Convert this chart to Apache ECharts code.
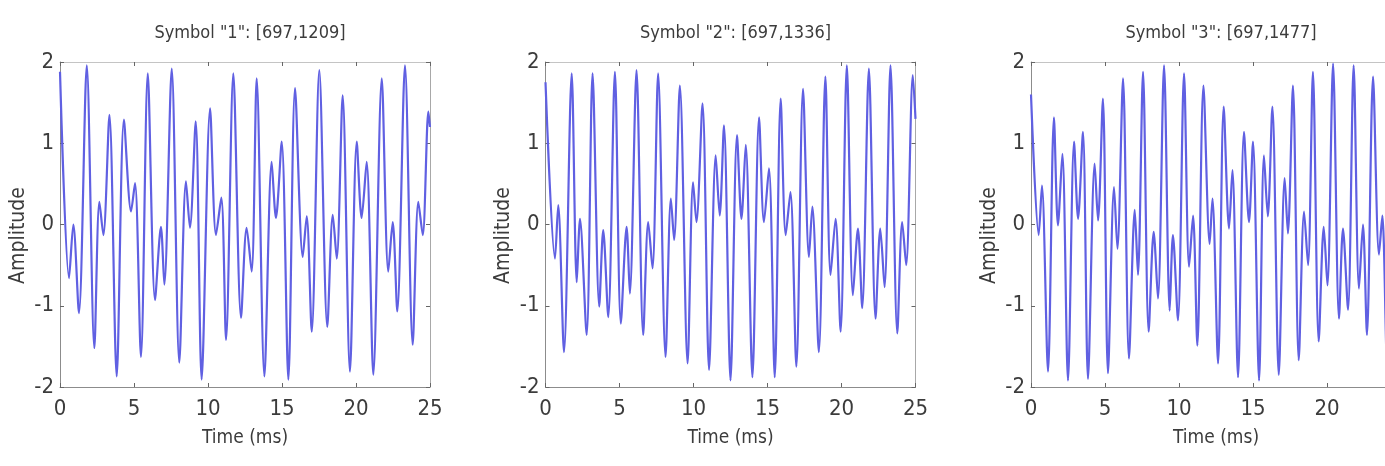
<!DOCTYPE html>
<html>
<head>
<meta charset="utf-8">
<script src="https://cdn.jsdelivr.net/npm/echarts@6/dist/echarts.min.js"></script>
<style>
html,body{margin:0;padding:0;background:#fff;overflow:hidden;width:1385px;height:466px;}
#c{width:1425px;height:466px;}
</style>
</head>
<body>
<div id="c"></div>
<script>
// ---- data (time in ms, amplitude) ----
const titles = ['Symbol "1": [697,1209]', 'Symbol "2": [697,1336]', 'Symbol "3": [697,1477]'];
const xTicks = [0, 5, 10, 15, 20, 25];
const yTicks = [-2, -1, 0, 1, 2];

const t1 = [0,0.61,0.9,1.28,1.81,2.32,2.66,2.93,3.34,3.83,4.32,4.8,5.07,5.47,5.93,6.42,6.82,7.05,7.55,8.06,8.51,8.78,9.17,9.57,10.14,10.54,10.9,11.22,11.71,12.23,12.61,12.95,13.29,13.81,14.3,14.59,14.98,15.43,15.88,16.4,16.67,17.01,17.52,18.06,18.43,18.7,19.1,19.59,20.05,20.38,20.72,21.17,21.74,22.18,22.48,22.79,23.31,23.83,24.21,24.51,24.89,25];
const v1 = [1.88,-0.66,0.0,-1.09,1.96,-1.52,0.28,-0.13,1.35,-1.87,1.29,0.16,0.51,-1.63,1.86,-0.93,-0.03,-0.74,1.92,-1.7,0.53,-0.04,1.27,-1.91,1.43,-0.13,0.33,-1.42,1.86,-1.15,-0.04,-0.58,1.8,-1.87,0.77,0.08,1.02,-1.91,1.68,-0.4,0.1,-1.32,1.9,-1.26,0.12,-0.42,1.59,-1.81,1.02,0.08,0.77,-1.85,1.8,-0.58,0.03,-1.07,1.96,-1.48,0.28,-0.13,1.39,1.2];

const t2 = [0,0.64,0.86,1.25,1.77,2.11,2.33,2.78,3.18,3.63,3.9,4.24,4.69,5.09,5.48,5.7,6.15,6.6,6.94,7.23,7.61,8.11,8.47,8.69,9.08,9.6,9.97,10.2,10.61,11.05,11.5,11.77,12.06,12.5,12.94,13.24,13.53,13.98,14.43,14.76,15.1,15.49,15.89,16.23,16.55,16.95,17.4,17.8,18.03,18.47,18.91,19.26,19.6,19.94,20.36,20.77,21.11,21.4,21.85,22.3,22.62,22.91,23.31,23.77,24.1,24.37,24.82,25];
const v2 = [1.75,-0.42,0.24,-1.57,1.86,-0.71,0.07,-1.36,1.86,-1.01,-0.07,-1.14,1.88,-1.22,-0.03,-0.85,1.9,-1.36,0.03,-0.54,1.86,-1.63,0.32,-0.19,1.71,-1.71,0.52,0.03,1.49,-1.79,0.85,0.11,1.22,-1.92,1.1,0.07,0.98,-1.88,1.32,0.03,0.69,-1.88,1.55,-0.13,0.4,-1.75,1.67,-0.4,0.22,-1.57,1.82,-0.62,0.07,-1.32,1.96,-0.87,-0.05,-1.03,1.92,-1.16,-0.05,-0.77,1.96,-1.34,0.03,-0.5,1.84,1.3];

const t3 = [0,0.52,0.74,1.15,1.55,1.82,2.12,2.5,2.91,3.18,3.51,3.85,4.3,4.53,4.86,5.2,5.61,5.84,6.22,6.62,7.01,7.23,7.57,7.95,8.29,8.58,8.99,9.37,9.59,9.93,10.34,10.68,10.95,11.24,11.65,12.07,12.26,12.64,13.02,13.38,13.61,13.99,14.39,14.73,15.0,15.41,15.74,16.0,16.31,16.74,17.14,17.36,17.7,18.09,18.45,18.72,19.05,19.44,19.78,20.03,20.41,20.81,21.08,21.42,21.8,22.16,22.43,22.7,23.11,23.51,23.74,24.05,24.5,24.85,25];
const v3 = [1.6,-0.13,0.48,-1.81,1.32,-0.01,0.87,-1.92,1.02,0.07,1.14,-1.9,0.75,0.05,1.55,-1.83,0.46,-0.3,1.8,-1.65,0.18,-0.62,1.88,-1.32,-0.09,-0.91,1.96,-1.06,-0.13,-1.18,1.86,-0.52,0.11,-1.49,1.71,-0.24,0.32,-1.71,1.45,-0.05,0.67,-1.88,1.14,0.03,1.02,-1.92,0.85,0.1,1.45,-1.85,0.57,-0.11,1.71,-1.67,0.16,-0.5,1.88,-1.44,-0.03,-0.75,1.98,-1.16,-0.05,-1.05,1.96,-0.79,0.0,-1.36,1.82,-0.37,0.11,-1.7,1.5,-0.1,0.3];

const times = [t1, t2, t3];
const amps = [v1, v2, v3];

// ---- layout / style ----
const FONT = '"Liberation Sans Narrow", "DejaVu Sans Condensed", "Liberation Sans", Arial, sans-serif';
const gridLeft = [60, 545.5, 1031];
const gridW = 370;
const gridTop = 62, gridH = 325;
const lineColor = '#6060e2';
const axisColor = '#8c8c8c';
const textColor = '#3c3c3c';

const chart = echarts.init(document.getElementById('c'), null, {renderer: 'canvas'});

const grids = [], xAxes = [], yAxes = [], series = [], title = [];
for (let i = 0; i < 3; i++) {
  grids.push({left: gridLeft[i], top: gridTop, width: gridW, height: gridH, show: false, containLabel: false});
  title.push({text: titles[i], left: gridLeft[i] + gridW / 2, top: 19, textAlign: 'center',
    textStyle: {fontFamily: FONT, fontSize: 18, fontWeight: 'normal', color: textColor}});
  // bottom x axis
  xAxes.push({type: 'value', gridIndex: i, min: xTicks[0], max: xTicks[xTicks.length - 1], interval: 5, position: 'bottom',
    name: 'Time (ms)', nameLocation: 'middle', nameGap: 42,
    nameTextStyle: {fontFamily: FONT, fontSize: 19, color: textColor},
    axisLine: {show: true, onZero: false, lineStyle: {color: axisColor}},
    axisTick: {show: true, inside: true, length: 4, lineStyle: {color: '#666'}},
    axisLabel: {fontFamily: FONT, fontSize: 22, color: textColor, margin: 11, showMinLabel: true, showMaxLabel: true},
    splitLine: {show: false}});
  // top x axis (box ticks)
  xAxes.push({type: 'value', gridIndex: i, min: xTicks[0], max: xTicks[xTicks.length - 1], interval: 5, position: 'top',
    axisLine: {show: true, onZero: false, lineStyle: {color: '#c4c4c4'}},
    axisTick: {show: true, inside: true, length: 4, lineStyle: {color: '#666'}},
    axisLabel: {show: false}, splitLine: {show: false}});
  yAxes.push({type: 'value', gridIndex: i, min: yTicks[0], max: yTicks[yTicks.length - 1], interval: 1, position: 'left',
    name: 'Amplitude', nameLocation: 'middle', nameGap: 31, nameRotate: 90,
    nameTextStyle: {fontFamily: FONT, fontSize: 21, color: textColor, padding: [0, 22, 0, 0]},
    axisLine: {show: true, onZero: false, lineStyle: {color: axisColor}},
    axisTick: {show: true, inside: true, length: 4, lineStyle: {color: '#666'}},
    axisLabel: {fontFamily: FONT, fontSize: 22, color: textColor, margin: 6},
    splitLine: {show: false}});
  yAxes.push({type: 'value', gridIndex: i, min: yTicks[0], max: yTicks[yTicks.length - 1], interval: 1, position: 'right',
    axisLine: {show: true, onZero: false, lineStyle: {color: '#a8a8a8'}},
    axisTick: {show: true, inside: true, length: 4, lineStyle: {color: '#666'}},
    axisLabel: {show: false}, splitLine: {show: false}});
  series.push({type: 'line', xAxisIndex: i * 2, yAxisIndex: i * 2, showSymbol: false, symbol: 'none',
    smooth: 0.3, clip: true, animation: false,
    lineStyle: {color: lineColor, width: 2.2},
    data: times[i].map((t, k) => [t, amps[i][k]])});
}

chart.setOption({
  animation: false,
  backgroundColor: '#fff',
  title: title,
  grid: grids,
  xAxis: xAxes,
  yAxis: yAxes,
  series: series
});
</script>
</body>
</html>
